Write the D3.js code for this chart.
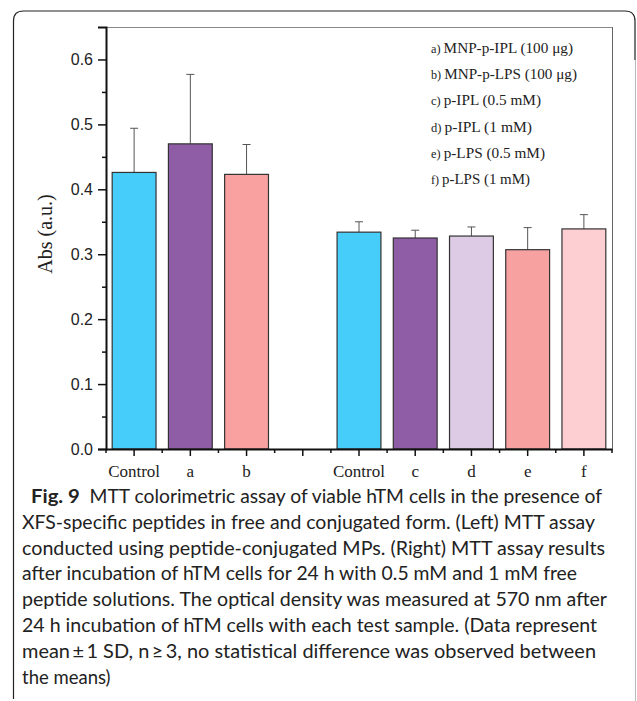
<!DOCTYPE html>
<html>
<head>
<meta charset="utf-8">
<script src="https://cdn.jsdelivr.net/npm/d3@7"></script>
<style>
  html, body { margin: 0; padding: 0; background: #fff; }
  svg { display: block; }
</style>
</head>
<body>
<svg id="chart" width="637" height="701"></svg>
<script>
// ---- data ----
const categories = ["Control", "a", "b", "gap", "Control2", "c", "d", "e", "f"];
const tickLabels = ["Control", "a", "b", "", "Control", "c", "d", "e", "f"];
const means = [0.426, 0.470, 0.423, null, 0.334, 0.325, 0.328, 0.307, 0.339];
const sds   = [0.068, 0.107, 0.046, null, 0.016, 0.012, 0.014, 0.034, 0.022];
const barColors = ["#46CDFA", "#8E5DA5", "#F9A1A1", null, "#46CDFA", "#8E5DA5", "#DDCBE5", "#F8A1A1", "#FDCFD3"];
const yTicks = [0, 0.1, 0.2, 0.3, 0.4, 0.5, 0.6];
const yMinorTicks = [0.05, 0.15, 0.25, 0.35, 0.45, 0.55];
const legendKeys = ["a)", "b)", "c)", "d)", "e)", "f)"];
const legendTexts = ["MNP-p-IPL (100 μg)", "MNP-p-LPS (100 μg)", "p-IPL (0.5 mM)", "p-IPL (1 mM)", "p-LPS (0.5 mM)", "p-LPS (1 mM)"];
const yLabel = "Abs (a.u.)";
const captionBold = "Fig. 9";
const captionLines = [
  "MTT colorimetric assay of viable hTM cells in the presence of",
  "XFS-specific peptides in free and conjugated form. (Left) MTT assay",
  "conducted using peptide-conjugated MPs. (Right) MTT assay results",
  "after incubation of hTM cells for 24 h with 0.5 mM and 1 mM free",
  "peptide solutions. The optical density was measured at 570 nm after",
  "24 h incubation of hTM cells with each test sample. (Data represent",
  "mean\u2009±\u20091 SD, n\u2009≥\u20093, no statistical difference was observed between",
  "the means)"
];

// ---- layout ----
const svg = d3.select("#chart");
const plot = { left: 106, right: 612, top: 27, bottom: 449 };

// outer frame
svg.append("path")
  .attr("d", "M13.5,699 L13.5,21 Q13.5,11 23.5,11 L625,11 Q635,11 635,21 L635,60")
  .attr("fill", "none").attr("stroke", "#222").attr("stroke-width", 1.2);
svg.append("line")
  .attr("x1", 635.5).attr("x2", 635.5).attr("y1", 60).attr("y2", 701)
  .attr("stroke", "#bbb").attr("stroke-width", 1);

const x = d3.scaleBand().domain(categories)
  .range([plot.left, plot.right]).paddingInner(0.22).paddingOuter(0.11);
const y = d3.scaleLinear().domain([0, 0.65]).range([plot.bottom, plot.top]);

// plot frame top/right
svg.append("line").attr("x1", plot.left).attr("x2", plot.right)
  .attr("y1", plot.top + 0.5).attr("y2", plot.top + 0.5)
  .attr("stroke", "#888").attr("stroke-width", 1);
svg.append("line").attr("x1", plot.right + 0.5).attr("x2", plot.right + 0.5)
  .attr("y1", plot.top).attr("y2", plot.bottom)
  .attr("stroke", "#666").attr("stroke-width", 1);

// bars
const data = categories.map((c, i) => ({ c, m: means[i], sd: sds[i], col: barColors[i] }))
  .filter(d => d.m !== null);

const g = svg.append("g");
g.selectAll("line.err").data(data).join("line").attr("class", "err")
  .attr("x1", d => x(d.c) + x.bandwidth() / 2).attr("x2", d => x(d.c) + x.bandwidth() / 2)
  .attr("y1", d => y(d.m)).attr("y2", d => y(d.m + d.sd))
  .attr("stroke", "#555").attr("stroke-width", 1);
g.selectAll("line.cap").data(data).join("line").attr("class", "cap")
  .attr("x1", d => x(d.c) + x.bandwidth() / 2 - 4).attr("x2", d => x(d.c) + x.bandwidth() / 2 + 4)
  .attr("y1", d => y(d.m + d.sd)).attr("y2", d => y(d.m + d.sd))
  .attr("stroke", "#555").attr("stroke-width", 1);
g.selectAll("rect").data(data).join("rect")
  .attr("x", d => x(d.c)).attr("width", x.bandwidth())
  .attr("y", d => y(d.m)).attr("height", d => y(0) - y(d.m))
  .attr("fill", d => d.col).attr("stroke", "#333").attr("stroke-width", 1.2);

// y axis
const yAxis = d3.axisLeft(y).tickValues(yTicks).tickFormat(d3.format(".1f")).tickSize(8).tickPadding(5);
const ya = svg.append("g").attr("transform", `translate(${plot.left},0)`).call(yAxis);
ya.select(".domain").attr("stroke", "#111").attr("stroke-width", 2);
ya.selectAll(".tick line").attr("stroke", "#111").attr("stroke-width", 1.5);
ya.selectAll(".tick text").attr("font-family", "Liberation Sans, Arial, sans-serif")
  .attr("font-size", 16).attr("fill", "#222");
const yMinor = d3.axisLeft(y).tickValues(yMinorTicks).tickFormat("").tickSize(4);
const ym = svg.append("g").attr("transform", `translate(${plot.left},0)`).call(yMinor);
ym.select(".domain").remove();
ym.selectAll(".tick line").attr("stroke", "#111").attr("stroke-width", 1.5);

// x axis
const xAxis = d3.axisBottom(x).tickFormat((d, i) => tickLabels[i]).tickSize(7).tickSizeOuter(0).tickPadding(9);
const xa = svg.append("g").attr("transform", `translate(0,${plot.bottom})`).call(xAxis);
xa.select(".domain").attr("stroke", "#111").attr("stroke-width", 2);
xa.selectAll(".tick line").attr("stroke", "#111").attr("stroke-width", 1.5);
xa.selectAll(".tick text").attr("font-family", "Liberation Serif, Times New Roman, serif")
  .attr("font-size", 17).attr("fill", "#222");
// minor x ticks at slot boundaries
const step = x.step();
const bounds = d3.range(0, categories.length + 1).map(i => plot.left + i * step);
svg.append("g").selectAll("line").data(bounds).join("line")
  .attr("x1", d => d).attr("x2", d => d)
  .attr("y1", plot.bottom).attr("y2", plot.bottom + 4)
  .attr("stroke", "#111").attr("stroke-width", 1.5);

// y label
svg.append("text").attr("transform", "translate(52,234) rotate(-90)")
  .attr("text-anchor", "middle")
  .attr("font-family", "Liberation Serif, Times New Roman, serif").attr("font-size", 20)
  .attr("fill", "#222").text(yLabel);

// legend
const legendWidths = [142, 146, 110, 101, 114, 99];
const lg = svg.append("g");
legendTexts.forEach((t, i) => {
  const tx = lg.append("text").attr("x", 431).attr("y", 53 + i * 26.2)
    .attr("font-family", "Liberation Serif, Times New Roman, serif").attr("font-size", 15.5)
    .attr("fill", "#222")
    .attr("textLength", legendWidths[i]).attr("lengthAdjust", "spacingAndGlyphs");
  tx.append("tspan").attr("font-size", 12.5).text(legendKeys[i] + " ");
  tx.append("tspan").text(t);
});

// caption
const capWidths = [571, 573, 583, 555, 585, 575, 574, null];
const capFont = "Lato, 'Open Sans', sans-serif";
captionLines.forEach((line, i) => {
  const tx = svg.append("text")
    .attr("x", i === 0 ? 31 : 22).attr("y", 503 + i * 25.8)
    .attr("font-family", capFont).attr("font-size", 18.5).attr("fill", "#222");
  if (i === 0) {
    tx.append("tspan").attr("font-weight", "bold").attr("font-size", 19.5).text(captionBold);
    tx.append("tspan").text("\u2002" + line);
  } else {
    tx.text(line);
  }
  if (capWidths[i]) tx.attr("textLength", capWidths[i]).attr("lengthAdjust", "spacingAndGlyphs");
});
</script>
</body>
</html>
